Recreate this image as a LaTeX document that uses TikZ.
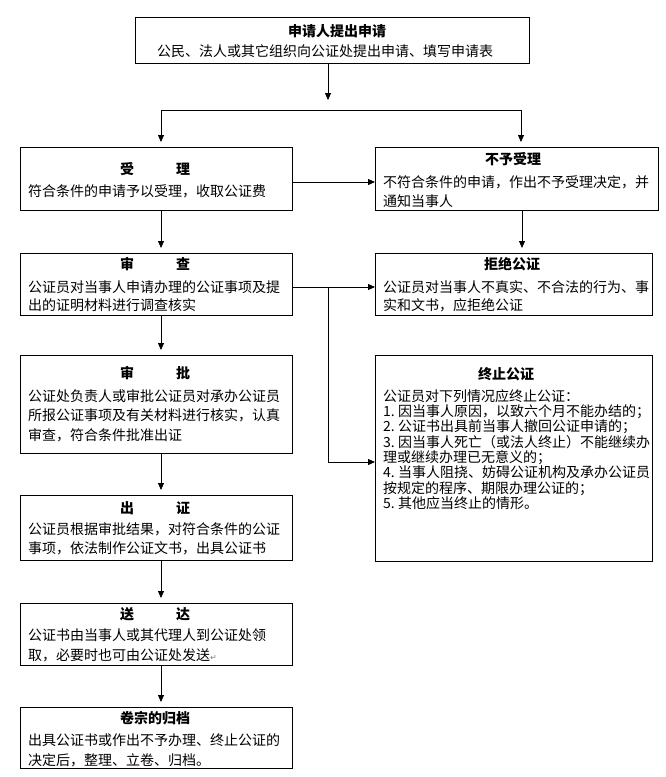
\documentclass[tikz,border=0pt]{standalone}
\usepackage{fontspec}
\setmainfont{Noto Sans CJK SC}
\newfontfamily\dvfont{DejaVu Sans}
\usetikzlibrary{arrows.meta}
\newcommand\itemno[1]{\makebox[15pt][l]{#1.}}
\begin{document}
\begin{tikzpicture}[x=1pt,y=-1pt,
  box/.style={draw, line width=0.8pt, inner sep=0pt, outer sep=0pt, anchor=north west},
  ttl/.style={anchor=base, inner sep=0pt, font=\fontsize{14}{16}\selectfont\bfseries},
  body/.style={anchor=base west, inner sep=0pt, align=left, font=\fontsize{14}{19.5}\selectfont},
  line/.style={line width=0.8pt},
  arr/.style={line width=0.8pt, -{Triangle[length=7pt,width=6pt]}},
  darr/.style={arr, shorten >=5pt}]
\useasboundingbox (0,0) rectangle (666,777);
\fill[white] (0,0) rectangle (666,777);

% boxes
\node[box, minimum width=394, minimum height=46] (apply) at (135,17) {};
\node[box, minimum width=272, minimum height=63] (accept) at (20,147) {};
\node[box, minimum width=283, minimum height=63] (reject) at (375,147) {};
\node[box, minimum width=272, minimum height=62] (review) at (20,253) {};
\node[box, minimum width=277, minimum height=62] (refuse) at (375,253) {};
\node[box, minimum width=272, minimum height=98] (approve) at (20,355) {};
\node[box, minimum width=277, minimum height=206] (terminate) at (375,355) {};
\node[box, minimum width=272, minimum height=65] (issue) at (20,495) {};
\node[box, minimum width=272, minimum height=62] (deliver) at (20,603) {};
\node[box, minimum width=272, minimum height=61] (archive) at (20,707) {};

% titles
\node[ttl] (apply-t) at (337,36.3) {申请人提出申请};
\node[ttl] (accept-t) at (155,174.3) {受　　　理};
\node[ttl] (reject-t) at (513,164.3) {不予受理};
\node[ttl] (review-t) at (155,269.3) {审　　　查};
\node[ttl] (refuse-t) at (512,269.3) {拒绝公证};
\node[ttl] (approve-t) at (155,378.3) {审　　　批};
\node[ttl] (terminate-t) at (506,379.3) {终止公证};
\node[ttl] (issue-t) at (155,513.3) {出　　　证};
\node[ttl] (deliver-t) at (155,619.3) {送　　　达};
\node[ttl] (archive-t) at (155,723.3) {卷宗的归档};

% bodies (base anchor = baseline of the last line)
\node[body] (apply-b) at (157,56.3) {公民、法人或其它组织向公证处提出申请、填写申请表};
\node[body] (accept-b) at (28,196.3) {符合条件的申请予以受理，收取公证费};
\node[body, font=\fontsize{14}{19}\selectfont] (reject-b) at (383,206.3) {不符合条件的申请，作出不予受理决定，并\\通知当事人};
\node[body, font=\fontsize{14}{18.3}\selectfont] (review-b) at (28,310.6) {公证员对当事人申请办理的公证事项及提\\出的证明材料进行调查核实};
\node[body, font=\fontsize{14}{18.3}\selectfont] (refuse-b) at (383,310.6) {公证员对当事人不真实、不合法的行为、事\\实和文书，应拒绝公证};
\node[body] (approve-b) at (28,440.3) {公证处负责人或审批公证员对承办公证员\\所报公证事项及有关材料进行核实，认真\\审查，符合条件批准出证};
\node[body, font=\fontsize{14}{15.3}\selectfont] (terminate-b) at (383,508.4) {公证员对下列情况应终止公证：\\\itemno{1}因当事人原因，以致六个月不能办结的；\\\itemno{2}公证书出具前当事人撤回公证申请的；\\\itemno{3}因当事人死亡（或法人终止）不能继续办\\理或继续办理已无意义的；\\\itemno{4}当事人阻挠、妨碍公证机构及承办公证员\\按规定的程序、期限办理公证的；\\\itemno{5}其他应当终止的情形。};
\node[body, font=\fontsize{14}{19}\selectfont] (issue-b) at (28,553.3) {公证员根据审批结果，对符合条件的公证\\事项，依法制作公证文书，出具公证书};
\node[body, font=\fontsize{14}{20}\selectfont] (deliver-b) at (28,660.3) {公证书由当事人或其代理人到公证处领\\取，必要时也可由公证处发送{\dvfont\fontsize{8}{8}\selectfont\color{gray}↵}};
\node[body, font=\fontsize{14}{20}\selectfont] (archive-b) at (28,765.3) {出具公证书或作出不予办理、终止公证的\\决定后，整理、立卷、归档。};

% connector coordinates
\coordinate (t1) at (328,100);
\coordinate (sL) at (161,110);
\coordinate (sR) at (521,110);
\coordinate (hA) at (330,182);
\coordinate (cL) at (161,0);
\coordinate (cR) at (522,0);
\coordinate (br) at (328,287);
\coordinate (hC) at (330,462);

% connectors
\draw[arr] (t1 |- apply.south) -- (t1);
\draw[line] (sL) -- (sR);
\draw[darr] (sL) -- (sL |- accept.north);
\draw[darr] (sR) -- (sR |- reject.north);
\draw[arr] (accept.east |- hA) -- (reject.west |- hA);
\draw[darr] (cR |- reject.south) -- (cR |- refuse.north);
\draw[darr] (cL |- accept.south) -- (cL |- review.north);
\draw[darr] (cL |- review.south) -- (cL |- approve.north);
\draw[darr] (cL |- approve.south) -- (cL |- issue.north);
\draw[darr] (cL |- issue.south) -- (cL |- deliver.north);
\draw[darr] (cL |- deliver.south) -- (cL |- archive.north);
\draw[arr] (review.east |- br) -- (refuse.west |- br);
\draw[arr] (br) -- (br |- hC) -- (terminate.west |- hC);
\end{tikzpicture}
\end{document}
